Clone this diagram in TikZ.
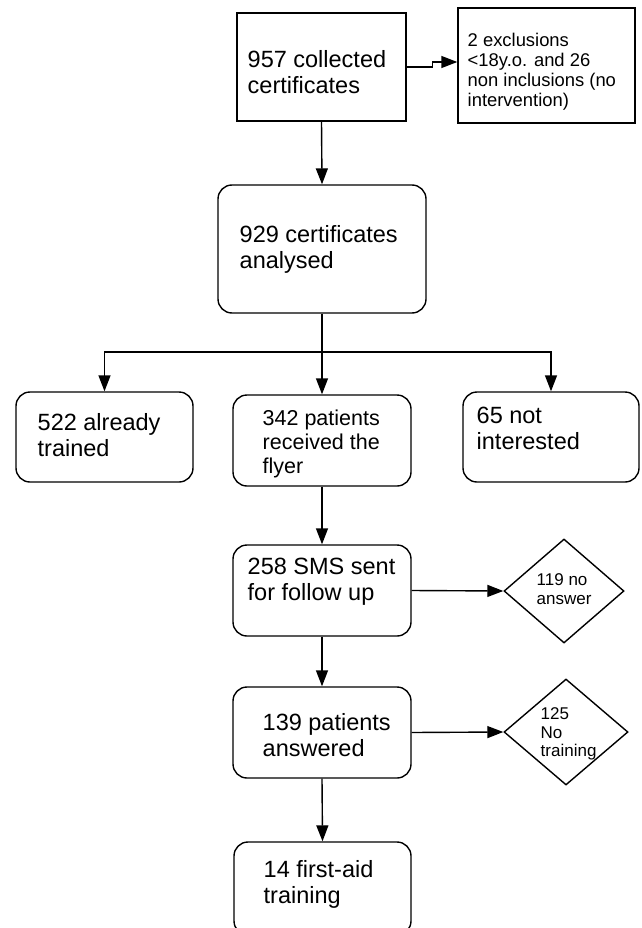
\documentclass[tikz,border=0pt]{standalone}
\usepackage{fontspec}
\setmainfont{Liberation Sans}
\usetikzlibrary{arrows.meta,shapes.geometric,calc}
\begin{document}
\begin{tikzpicture}[x=1pt,y=-1pt,
  every path/.style={line width=1.4pt},
  sqbox/.style={draw,rectangle,inner sep=0,minimum width=#1},
  rbox/.style={draw,rectangle,rounded corners=14pt,inner sep=0},
  dbox/.style={draw,diamond,inner sep=0,minimum width=#1},
  big/.style={anchor=west,align=left,inner sep=0,font=\fontsize{23.5}{26}\selectfont},
  mid/.style={anchor=west,align=left,inner sep=0,font=\fontsize{21.5}{24}\selectfont},
  small/.style={anchor=west,align=left,inner sep=0,font=\fontsize{18.4}{20}\selectfont},
  tiny/.style={anchor=west,align=left,inner sep=0,font=\fontsize{17}{18.8}\selectfont},
  arr/.style={draw,-{Triangle[length=16pt,width=12pt]}}]
\useasboundingbox (0,0) rectangle (641,928);

% boxes
\node[sqbox=169pt,minimum height=108pt] (b1) at (321.5,67) {};
\node[sqbox=177pt,minimum height=115pt] (b2) at (546.5,65.5) {};
\node[rbox,minimum width=208pt,minimum height=128pt] (b3) at (322,249) {};
\node[rbox,minimum width=177pt,minimum height=90pt] (b4) at (104.5,437) {};
\node[rbox,minimum width=178pt,minimum height=91pt] (b5) at (322,440.5) {};
\node[rbox,minimum width=176pt,minimum height=90pt] (b6) at (551,437) {};
\node[rbox,minimum width=178pt,minimum height=91pt] (b7) at (322,590.5) {};
\node[rbox,minimum width=178pt,minimum height=91pt] (b8) at (322,732.5) {};
\node[rbox,minimum width=177pt,minimum height=93pt] (b9) at (322.5,888.5) {};
\node[dbox=120pt,minimum height=104pt] (d1) at (564,591) {};
\node[dbox=124pt,minimum height=106pt] (d2) at (566,732) {};

% texts
\node[big] (t1) at (247,72) {957 collected\\certificates};
\node[small] (t2) at (467,72) {2 exclusions\\<18y.o. and 26\\non inclusions (no\\intervention)};
\node[big] (t3) at (239,249) {929 certificates\\analysed};
\node[big] (t4) at (37,435) {522 already\\trained};
\node[mid] (t5) at (262,444) {342 patients\\received the\\flyer};
\node[big] (t6) at (476,428) {65 not\\interested};
\node[big] (t7) at (247,582) {258 SMS sent\\for follow up};
\node[tiny] (t8) at (536,589) {119 no\\answer};
\node[big] (t9) at (262,735) {139 patients\\answered};
\node[tiny] (t10) at (540,734) {125\\No\\training};
\node[big] (t11) at (263,884) {14 first-aid\\training};

% connectors
\coordinate (j) at (322,352);
\draw[arr] (b1.east) -- ++(26,0) |- ($(b2.west)+(0,-3.5)$);
\draw[arr] (b1.south) -- (b3.north);
\draw (b3.south) -- (j);
\draw[arr] (j) -| (b4.north);
\draw[arr] (j) -| (b6.north);
\draw[arr] (j) -- (b5.north);
\draw[arr] (b5.south) -- (b7.north);
\draw[arr] (b7.east) -- (d1.west);
\draw[arr] (b7.south) -- (b8.north);
\draw[arr] (b8.east) -- (d2.west);
\draw[arr] (b8.south) -- (b9.north);
\end{tikzpicture}
\end{document}
